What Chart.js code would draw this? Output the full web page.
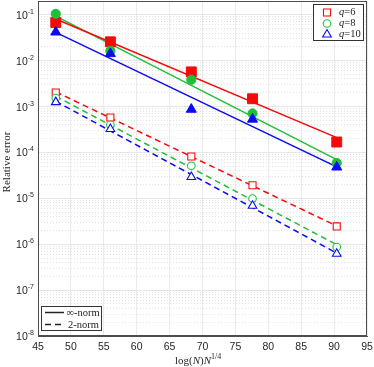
<!DOCTYPE html>
<html>
<head>
<meta charset="utf-8">
<script src="https://cdn.jsdelivr.net/npm/chart.js@4.4.0/dist/chart.umd.min.js"></script>
<style>
  html, body { margin: 0; padding: 0; background: #fff; }
</style>
</head>
<body>
<canvas id="myChart" width="374" height="367"></canvas>
<script>
// Datos
const xValues = [47.7, 56.0, 68.3, 77.6, 90.4];
const xFit = [47.7, 90.4];

// Norma infinito (marcadores rellenos)
const infQ6 = [0.068, 0.0258, 0.0057, 0.00148, 0.000169];
const infQ8 = [0.105, 0.0164, 0.00384, 0.000708, 0.000059];
const infQ10 = [0.042, 0.0142, 0.00087, 0.00053, 0.000048];

// Norma 2 (marcadores huecos)
const twoQ6 = [0.00203, 0.000578, 0.0000818, 0.0000193, 0.00000244];
const twoQ8 = [0.00153, 0.0004, 0.0000513, 0.0000099, 0.00000087];
const twoQ10 = [0.00125, 0.000324, 0.0000291, 0.0000069, 0.00000062];

// Rectas de ajuste (valores en los extremos)
const fitInfQ6 = [0.0809, 0.000211];
const fitInfQ8 = [0.094, 0.0000698];
const fitInfQ10 = [0.0413, 0.0000485];
const fitTwoQ6 = [0.00209, 0.0000025];
const fitTwoQ8 = [0.00168, 0.000000975];
const fitTwoQ10 = [0.0013, 0.00000064];

const qLabels = ["6", "8", "10"];
const normLabels = ["\u221e-norm", "2-norm"];
const xTicks = [45, 50, 55, 60, 65, 70, 75, 80, 85, 90, 95];
const yTicks = [1e-8, 1e-7, 1e-6, 1e-5, 1e-4, 1e-3, 1e-2, 1e-1];

const colors = ["#f50a0a", "#20bf3a", "#0a0af5"];
const styles = ["rect", "circle", "triangle"];
const fillRadius = [7, 4.6, 5.8];
const openRadius = [5, 3.8, 5];

const toPts = (xs, ys) => xs.map((x, i) => ({ x: x, y: ys[i] }));

const infData = [infQ6, infQ8, infQ10];
const twoData = [twoQ6, twoQ8, twoQ10];
const fitInf = [fitInfQ6, fitInfQ8, fitInfQ10];
const fitTwo = [fitTwoQ6, fitTwoQ8, fitTwoQ10];

const datasets = [];
for (let i = 0; i < 3; i++) {
  datasets.push({
    data: toPts(xFit, fitInf[i]),
    borderColor: colors[i], borderWidth: 1.5, pointRadius: 0, order: 20
  });
  datasets.push({
    data: toPts(xFit, fitTwo[i]),
    borderColor: colors[i], borderWidth: 1.5, borderDash: [6, 4], pointRadius: 0, order: 20
  });
  datasets.push({
    data: toPts(xValues, infData[i]),
    showLine: false, pointStyle: styles[i], pointRadius: fillRadius[i],
    backgroundColor: colors[i], borderColor: colors[i], borderWidth: 1, order: 10 - i
  });
  datasets.push({
    data: toPts(xValues, twoData[i]),
    showLine: false, pointStyle: styles[i], pointRadius: openRadius[i],
    backgroundColor: "#ffffff", borderColor: colors[i], borderWidth: 1.1, order: 5 - i
  });
}

// Marcadores para las leyendas
function marker(ctx, style, x, y, r, color) {
  ctx.save();
  ctx.strokeStyle = color;
  ctx.fillStyle = "#fff";
  ctx.lineWidth = 1.1;
  ctx.beginPath();
  if (style === "rect") {
    const s = r * Math.SQRT1_2;
    ctx.rect(x - s, y - s, 2 * s, 2 * s);
  } else if (style === "circle") {
    ctx.arc(x, y, r, 0, Math.PI * 2);
  } else {
    for (let k = 0; k < 3; k++) {
      const a = k * 2 * Math.PI / 3;
      const px = x + Math.sin(a) * r, py = y - Math.cos(a) * r;
      if (k === 0) ctx.moveTo(px, py); else ctx.lineTo(px, py);
    }
    ctx.closePath();
  }
  ctx.fill();
  ctx.stroke();
  ctx.restore();
}

const extras = {
  id: "extras",
  afterDraw(chart) {
    const ctx = chart.ctx;
    const a = chart.chartArea;
    const ys = chart.scales.y;
    ctx.save();
    // caja del eje
    ctx.strokeStyle = "#4d4d4d";
    ctx.lineWidth = 1;
    ctx.strokeRect(Math.round(a.left) + 0.5, Math.round(a.top) + 0.5,
      Math.round(a.right - a.left) - 1, Math.round(a.bottom - a.top) - 1);

    // etiquetas del eje y: 10^n
    ctx.fillStyle = "#262626";
    ctx.textBaseline = "alphabetic";
    for (const v of yTicks) {
      const py = ys.getPixelForValue(v);
      const e = String(Math.round(Math.log10(v)));
      ctx.font = "7px 'Liberation Sans'";
      const ew = ctx.measureText(e).width;
      ctx.font = "10.5px 'Liberation Sans'";
      const bw = ctx.measureText("10").width;
      const right = a.left - 4;
      ctx.fillText("10", right - ew - bw, py + 4);
      ctx.font = "7px 'Liberation Sans'";
      ctx.fillText(e, right - ew, py - 1);
    }

    // titulo del eje y
    ctx.save();
    ctx.translate(10, 162);
    ctx.rotate(-Math.PI / 2);
    ctx.textAlign = "center";
    ctx.font = "11px 'Liberation Serif'";
    ctx.fillText("Relative error", 0, 0);
    ctx.restore();

    // leyenda de q
    ctx.fillStyle = "#fff";
    ctx.fillRect(313.5, 4.5, 50, 36);
    ctx.strokeStyle = "#333";
    ctx.strokeRect(313.5, 4.5, 50, 36);
    ctx.textBaseline = "middle";
    for (let i = 0; i < 3; i++) {
      const y = 12.5 + i * 11;
      marker(ctx, styles[i], 327, y, openRadius[i], colors[i]);
      let tx = 339;
      ctx.fillStyle = "#222";
      ctx.font = "italic 10.5px 'Liberation Serif'";
      ctx.fillText("q", tx, y);
      tx += ctx.measureText("q").width;
      ctx.font = "10.5px 'Liberation Serif'";
      ctx.fillText("=" + qLabels[i], tx, y);
    }

    // leyenda de normas
    ctx.fillStyle = "#fff";
    ctx.fillRect(41.5, 306.5, 60, 24);
    ctx.strokeStyle = "#333";
    ctx.strokeRect(41.5, 306.5, 60, 24);
    ctx.strokeStyle = "#222";
    ctx.lineWidth = 1.5;
    ctx.beginPath();
    ctx.moveTo(45, 312.5); ctx.lineTo(64, 312.5);
    ctx.stroke();
    ctx.setLineDash([6, 4]);
    ctx.beginPath();
    ctx.moveTo(45, 324.5); ctx.lineTo(64, 324.5);
    ctx.stroke();
    ctx.setLineDash([]);
    ctx.fillStyle = "#222";
    ctx.font = "10.5px 'Liberation Serif'";
    ctx.fillText(normLabels[0], 66.5, 313);
    ctx.fillText(normLabels[1], 68, 325);

    // titulo del eje x: log(N)N^{1/4}
    let x = 175;
    const y = 361;
    const parts = [
      ["log(", "11px 'Liberation Serif'", 0],
      ["N", "italic 11px 'Liberation Serif'", 0],
      [")", "11px 'Liberation Serif'", 0],
      ["N", "italic 11px 'Liberation Serif'", 0],
      ["1/4", "8px 'Liberation Serif'", -4]
    ];
    ctx.fillStyle = "#262626";
    for (const p of parts) {
      ctx.font = p[1];
      ctx.fillText(p[0], x, y + p[2]);
      x += ctx.measureText(p[0]).width;
    }
    ctx.restore();
  }
};

const ctx = document.getElementById("myChart").getContext("2d");
const myChart = new Chart(ctx, {
  type: "line",
  data: { datasets: datasets },
  options: {
    responsive: false,
    animation: false,
    devicePixelRatio: 1,
    layout: { autoPadding: false, padding: { top: 1, right: 7, left: 0, bottom: 0 } },
    plugins: { legend: { display: false }, tooltip: { enabled: false } },
    scales: {
      x: {
        type: "linear", min: 45, max: 95,
        afterBuildTicks: (s) => { s.ticks = xTicks.map((v) => ({ value: v })); },
        afterFit: (s) => { s.height = 31; s.paddingLeft = 0; s.paddingRight = 0; },
        grid: { color: "#ebebeb", drawTicks: false },
        border: { color: "#4d4d4d" },
        ticks: { padding: 5, color: "#262626", font: { family: "Liberation Sans", size: 10.5 } }
      },
      y: {
        type: "logarithmic", min: 1e-8, max: 0.2,
        afterBuildTicks: (s) => { s.ticks = yTicks.map((v) => ({ value: v })); },
        afterFit: (s) => { s.width = 38; s.paddingTop = 0; s.paddingBottom = 0; },
        grid: { color: "#e6e6e6", drawTicks: false },
        border: { color: "#4d4d4d" },
        ticks: { display: false }
      },
      yMinor: {
        type: "logarithmic", min: 1e-8, max: 0.2, position: "left",
        afterBuildTicks: (s) => {
          const t = [];
          for (let e = -8; e < 0; e++) {
            for (let k = 2; k <= 9; k++) {
              if (k * Math.pow(10, e) < 0.2) t.push({ value: k * Math.pow(10, e) });
            }
          }
          s.ticks = t;
        },
        afterFit: (s) => { s.width = 0; s.paddingTop = 0; s.paddingBottom = 0; },
        grid: { color: "#e2e2e2", drawTicks: false },
        border: { display: false, dash: [1, 2] },
        ticks: { display: false }
      }
    }
  },
  plugins: [extras]
});
</script>
</body>
</html>
